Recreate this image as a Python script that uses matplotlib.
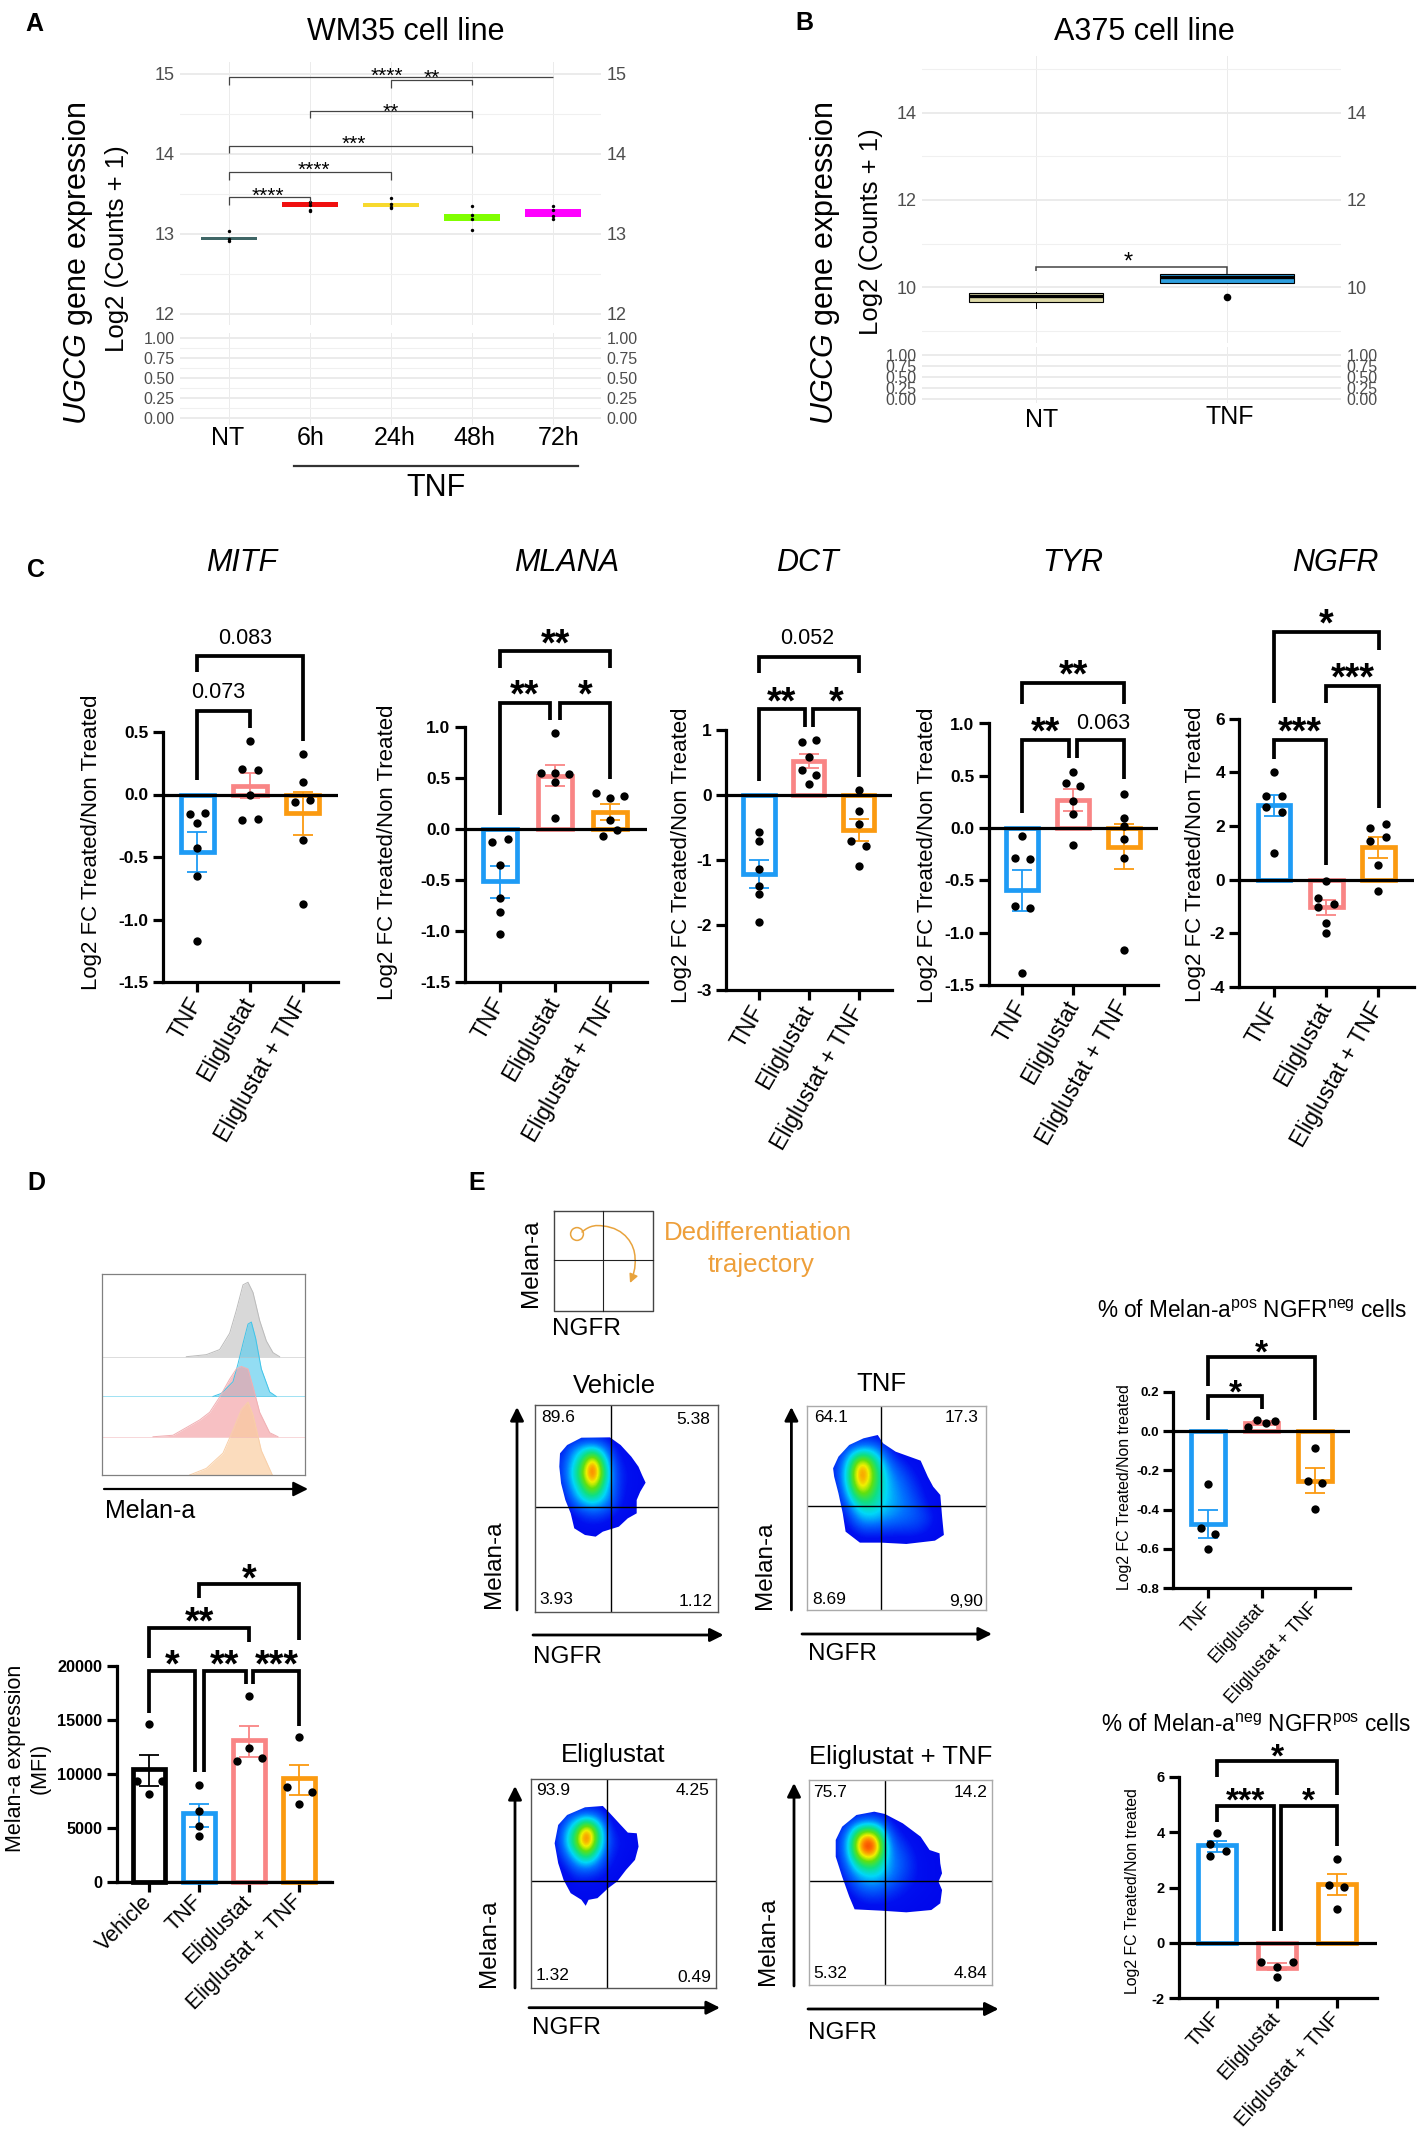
import numpy as np
import matplotlib
matplotlib.use('Agg')
import matplotlib.pyplot as plt
from matplotlib.colors import LinearSegmentedColormap
from matplotlib.patches import FancyArrowPatch, Polygon
from matplotlib.path import Path

W, H = 1417, 2137

plt.rcParams['font.family'] = ['Liberation Sans', 'DejaVu Sans']
plt.rcParams['mathtext.fontset'] = 'custom'
plt.rcParams['mathtext.rm'] = 'Liberation Sans'
plt.rcParams['mathtext.it'] = 'Liberation Sans:italic'
plt.rcParams['mathtext.bf'] = 'Liberation Sans:bold'
plt.rcParams['axes.unicode_minus'] = False

# ---- panel A / B box data
WM35_GROUPS = ['NT', '6h', '24h', '48h', '72h']
WM35_BOX_LOW = [12.92, 13.34, 13.34, 13.16, 13.21]
WM35_BOX_HIGH = [12.96, 13.40, 13.38, 13.25, 13.31]
WM35_DOTS = [[13.03, 12.93, 12.91], [13.40, 13.36, 13.30, 13.28], [13.45, 13.37, 13.34, 13.32],
             [13.35, 13.24, 13.19, 13.05], [13.35, 13.30, 13.22, 13.19]]
WM35_COLORS = ['#3F6666', '#F01010', '#F7D92E', '#80FF00', '#FF00FF']

A375_GROUPS = ['NT', 'TNF']
A375_BOX_LOW = [9.66, 10.09]
A375_BOX_HIGH = [9.86, 10.30]
A375_MEDIAN = [9.80, 10.24]
A375_WHISK_LOW = [9.53, 10.09]
A375_WHISK_HIGH = [9.90, 10.30]
A375_OUTLIER = [9.77]
A375_COLORS = ['#DDD9A8', '#2E9FDF']

# ---- panel C, D, E bars
GROUPS3 = ['TNF', 'Eliglustat', 'Eliglustat + TNF']
GROUPS4 = ['Vehicle', 'TNF', 'Eliglustat', 'Eliglustat + TNF']
BLUE, PINK, ORANGE = '#1E9BF5', '#F98585', '#FB9A10'

MITF_VALUES = [-0.46, 0.07, -0.15]
MITF_LOW = [-0.62, -0.03, -0.32]
MITF_HIGH = [-0.30, 0.17, 0.02]
MITF_DOTS = [[-0.157, -0.145, -0.226, -0.426, -0.65, -1.17], [0.43, 0.207, 0.193, 0.0, -0.2, -0.197],
             [0.325, 0.10, -0.06, -0.04, -0.36, -0.875]]

MLANA_VALUES = [-0.51, 0.52, 0.17]
MLANA_LOW = [-0.675, 0.42, 0.09]
MLANA_HIGH = [-0.36, 0.63, 0.24]
MLANA_DOTS = [[-0.13, -0.096, -0.355, -0.68, -0.81, -1.03], [0.94, 0.547, 0.547, 0.535, 0.463, 0.11],
              [0.35, 0.307, 0.323, 0.09, -0.068, -0.008]]

DCT_VALUES = [-1.21, 0.52, -0.53]
DCT_LOW = [-1.43, 0.41, -0.70]
DCT_HIGH = [-0.99, 0.627, -0.364]
DCT_DOTS = [[-0.564, -0.70, -1.14, -1.40, -1.52, -1.956], [0.815, 0.84, 0.583, 0.389, 0.313, 0.175],
            [0.075, -0.25, -0.45, -0.70, -0.78, -1.085]]

TYR_VALUES = [-0.59, 0.27, -0.18]
TYR_LOW = [-0.79, 0.168, -0.394]
TYR_HIGH = [-0.40, 0.378, 0.035]
TYR_DOTS = [[-0.078, -0.285, -0.30, -0.74, -0.768, -1.385], [0.538, 0.429, 0.406, 0.257, 0.133, -0.16],
            [0.324, 0.098, 0.023, -0.105, -0.289, -1.17]]

NGFR_VALUES = [2.78, -1.03, 1.2]
NGFR_LOW = [2.36, -1.32, 0.805]
NGFR_HIGH = [3.15, -0.745, 1.6]
NGFR_DOTS = [[4.0, 3.13, 3.13, 2.69, 2.54, 0.99], [-0.03, -0.70, -1.0, -0.91, -1.6, -2.0],
             [1.93, 2.08, 1.44, 1.6, 0.55, -0.43]]

MFI_VALUES = [10500, 6400, 13200, 9600]
MFI_LOW = [8860, 5120, 11600, 8060]
MFI_HIGH = [11750, 7250, 14500, 10850]
MFI_DOTS = [[14650, 9340, 9340, 8150], [8960, 6590, 5170, 4220], [17250, 12420, 11230, 11470],
            [13460, 8820, 8340, 7250]]

POSNEG_VALUES = [-0.473, 0.042, -0.253]
POSNEG_LOW = [-0.542, 0.03, -0.313]
POSNEG_HIGH = [-0.40, 0.05, -0.186]
POSNEG_DOTS = [[-0.271, -0.495, -0.525, -0.60], [0.022, 0.056, 0.041, 0.049], [-0.085, -0.253, -0.266, -0.395]]

NEGPOS_VALUES = [3.53, -0.9, 2.13]
NEGPOS_LOW = [3.27, -0.99, 1.72]
NEGPOS_HIGH = [3.69, -0.72, 2.48]
NEGPOS_DOTS = [[3.97, 3.57, 3.12, 3.30], [-0.686, -0.70, -0.866, -1.215], [3.03, 2.09, 2.03, 1.23]]

# dot offsets from the bar centre
JIT_MITF = [[-0.15, 0.15, 0, 0, 0, 0], [0, -0.15, 0.15, 0, -0.15, 0.15], [0, 0, -0.15, 0.15, 0, 0]]
JIT_MLANA = [[-0.15, 0.15, 0, 0, 0, 0], [0, -0.25, 0, 0.26, 0, 0], [-0.25, 0, 0.25, 0, -0.125, 0.125]]
JIT_DCT = [[0, 0, 0, 0, 0, 0], [-0.146, 0.146, 0, -0.146, 0.146, 0], [0, 0, 0, -0.146, 0.146, 0]]
JIT_TYR = [[0, -0.15, 0.15, -0.15, 0.15, 0], [0, -0.14, 0.14, 0, 0, 0], [0, 0, 0, 0, 0, 0]]
JIT_NGFR = [[0, -0.15, 0.15, -0.15, 0.15, 0], [0, -0.15, -0.15, 0.15, 0, 0], [-0.16, 0.15, -0.16, 0.15, 0, 0]]
JIT_MFI = [[0, -0.25, 0.25, 0], [0, 0, 0, 0], [0, 0, -0.25, 0.25], [0, -0.25, 0.25, 0]]
JIT_POSNEG = [[0, -0.13, 0.13, 0], [-0.26, -0.09, 0.08, 0.25], [0, -0.14, 0.13, 0]]
JIT_NEGPOS = [[0, -0.13, -0.13, 0.14], [-0.27, 0.27, 0, 0], [0, -0.13, 0.13, 0]]

# brackets: x1, x2, top, left end, right end, label, label x, label y
MITF_BR = [(0, 1, 0.672, 0.115, 0.53, '0.073', 0.39, 0.83), (0, 2, 1.105, 0.977, 0.426, '0.083', 0.9, 1.27)]
MLANA_BR = [(0, 0.904, 1.234, 0.132, 1.07, '**', 0.452, 1.41), (1.096, 2, 1.234, 1.07, 0.491, '*', 1.556, 1.41),
            (0, 2, 1.741, 1.57, 1.57, '**', 1.01, 1.909)]
DCT_BR = [(0, 0.92, 1.317, 0.219, 1.053, '**', 0.456, 1.586), (1.09, 2, 1.317, 1.053, 0.282, '*', 1.553, 1.586),
          (0, 2, 2.119, 1.868, 1.868, '0.052', 0.97, 2.439)]
TYR_BR = [(0, 0.924, 0.839, 0.14, 0.667, '**', 0.448, 1.01), (1.086, 2, 0.839, 0.667, 0.472, '0.063', 1.6, 1.026),
          (0, 2, 1.385, 1.182, 1.182, '**', 1, 1.556)]
NGFR_BR = [(0, 0.99, 5.21, 4.51, 0.53, '***', 0.5, 5.88), (0.99, 2.02, 7.22, 6.57, 2.66, '***', 1.5, 7.89),
           (0, 2.02, 9.21, 6.57, 8.54, '*', 1, 9.88)]
MFI_BR = [(0, 0.92, 19580, 15640, 10190, '*', 0.46, 21090), (1.09, 1.93, 19580, 10190, 18340, '**', 1.507, 21090),
          (2.087, 3, 19580, 18340, 14460, '***', 2.553, 21090), (0, 2, 23560, 20760, 22280, '**', 1, 25070),
          (1, 3, 27630, 26310, 22420, '*', 2.007, 29010)]
POSNEG_BR = [(0, 1, 0.178, 0.056, 0.11, '*', 0.5, 0.242), (0, 2, 0.375, 0.23, 0.056, '*', 1, 0.446)]
NEGPOS_BR = [(0, 0.944, 4.93, 4.36, 0.42, '***', 0.47, 5.48), (1.067, 2.01, 4.93, 0.42, 3.49, '*', 1.53, 5.48),
             (0, 2, 6.55, 5.99, 5.33, '*', 1, 7.06)]

WM35_BR = [(0, 4, 14.96, 14.86, 14.96, '****', 1.943, 15.05), (2, 3, 14.93, 14.82, 14.86, '**', 2.5, 15.02),
           (1, 3, 14.54, 14.45, 14.45, '**', 2.0, 14.6), (0, 3, 14.10, 14.01, 14.01, '***', 1.535, 14.2),
           (0, 2, 13.78, 13.68, 13.68, '****', 1.05, 13.87), (0, 1, 13.46, 13.36, 13.40, '****', 0.476, 13.55)]

# ---- histogram in D (height above each row's baseline)
HIST_GRAY_X = [560, 620, 660, 690, 710, 730, 745, 760, 780, 800, 820, 840]
HIST_GRAY_H = [0, 4, 14, 46, 91, 141, 146, 126, 71, 31, 8, 0]
HIST_BLUE_X = [640, 665, 700, 715, 730, 745, 755, 768, 785, 810, 830]
HIST_BLUE_H = [0, 6, 29, 64, 104, 142, 146, 114, 54, 9, 0]
HIST_PINK_X = [460, 520, 560, 600, 630, 660, 690, 710, 725, 745, 760, 780, 810, 835]
HIST_PINK_H = [0, 3, 18, 33, 48, 78, 113, 133, 138, 133, 98, 48, 8, 0]
HIST_ORANGE_X = [570, 620, 670, 700, 725, 745, 760, 785, 818]
HIST_ORANGE_H = [0, 13, 43, 88, 128, 143, 118, 48, 0]

# ---- flow plots: quadrant percentages, contour outline and coarse density read by eye
QUAD_VEHICLE = ['89.6', '5.38', '3.93', '1.12']
QUAD_TNF = ['64.1', '17.3', '8.69', '9,90']
QUAD_ELIG = ['93.9', '4.25', '1.32', '0.49']
QUAD_COMBO = ['75.7', '14.2', '5.32', '4.84']

OUT_VEHICLE = [(280, 850), (300, 825), (340, 803), (420, 802), (450, 825), (480, 860), (500, 890), (510, 915),
               (520, 938), (505, 965), (495, 990), (495, 1030), (470, 1045), (445, 1070), (400, 1085), (380, 1100),
               (350, 1095), (320, 1075), (310, 1030), (295, 990), (283, 940), (278, 890)]
DENS_VEHICLE = [[.10, .12, .14, .15, .14, .10, .10, .08, .08],
                [.14, .28, .40, .44, .34, .16, .12, .08, .08],
                [.18, .36, .56, .93, .52, .22, .14, .10, .08],
                [.18, .40, .66, 1.0, .62, .25, .16, .12, .08],
                [.16, .34, .54, .80, .50, .25, .15, .12, .08],
                [.12, .26, .42, .50, .40, .24, .14, .10, .08],
                [.10, .15, .22, .26, .24, .18, .12, .08, .08],
                [.08, .10, .14, .15, .14, .10, .08, .08, .08],
                [.08, .08, .08, .08, .08, .08, .08, .08, .08]]
OUT_TNF = [(1045, 895), (1060, 860), (1090, 825), (1130, 805), (1170, 795), (1185, 820), (1220, 845), (1290, 872),
           (1310, 920), (1325, 950), (1345, 975), (1350, 1040), (1355, 1095), (1330, 1112), (1250, 1122), (1180, 1118),
           (1120, 1118), (1080, 1085), (1072, 1030), (1060, 970), (1048, 920)]
DENS_TNF = [[.10, .12, .15, .14, .10, .08, .08, .08, .08],
            [.12, .28, .40, .38, .18, .10, .08, .08, .08],
            [.16, .42, .93, .56, .30, .18, .12, .08, .08],
            [.16, .48, 1.0, .62, .36, .26, .16, .10, .08],
            [.12, .42, .84, .56, .38, .30, .20, .12, .08],
            [.10, .30, .54, .50, .38, .32, .24, .14, .08],
            [.08, .20, .40, .40, .34, .30, .26, .20, .10],
            [.08, .12, .22, .22, .20, .20, .20, .16, .08],
            [.08, .08, .10, .10, .10, .10, .10, .08, .08]]
OUT_ELIG = [(265, 430), (275, 375), (300, 345), (350, 322), (400, 318), (420, 340), (450, 375), (470, 398), (495, 400),
            (500, 440), (490, 480), (465, 510), (440, 545), (415, 565), (385, 595), (360, 600), (352, 618), (340, 600),
            (310, 580), (290, 540), (275, 490)]
DENS_ELIG = [[.10, .10, .12, .12, .12, .10, .08, .08, .08],
             [.10, .20, .30, .36, .30, .14, .10, .08, .08],
             [.14, .32, .56, .92, .58, .22, .12, .10, .08],
             [.14, .36, .66, 1.0, .60, .24, .16, .12, .10],
             [.12, .26, .46, .66, .42, .20, .14, .10, .08],
             [.10, .16, .28, .32, .26, .16, .12, .08, .08],
             [.08, .10, .16, .16, .14, .12, .08, .08, .08],
             [.08, .08, .10, .10, .10, .08, .08, .08, .08],
             [.08, .08, .08, .08, .08, .08, .08, .08, .08]]
OUT_COMBO = [(1052, 420), (1070, 380), (1110, 345), (1160, 335), (1190, 342), (1240, 370), (1290, 410), (1315, 450),
             (1343, 460), (1345, 490), (1350, 520), (1340, 545), (1350, 570), (1345, 610), (1320, 630), (1250, 637),
             (1180, 632), (1105, 628), (1090, 590), (1070, 530), (1052, 470)]
DENS_COMBO = [[.10, .10, .12, .12, .10, .08, .08, .08, .08],
              [.10, .20, .32, .34, .18, .10, .08, .08, .08],
              [.14, .34, .86, .84, .28, .16, .10, .08, .08],
              [.14, .38, .98, 1.0, .34, .22, .14, .08, .08],
              [.12, .32, .66, .68, .34, .26, .16, .10, .08],
              [.10, .24, .40, .44, .34, .24, .16, .10, .08],
              [.08, .16, .28, .30, .24, .18, .14, .10, .08],
              [.08, .10, .16, .18, .16, .14, .10, .08, .08],
              [.08, .08, .10, .10, .10, .10, .08, .08, .08]]

FLOW_CMAP = LinearSegmentedColormap.from_list(
    'flow', [(0, '#0000E8'), (0.15, '#0010F0'), (0.30, '#0070FF'), (0.42, '#00D8F8'), (0.55, '#10E080'),
             (0.68, '#60E010'), (0.78, '#F0F000'), (0.88, '#FF8000'), (1, '#F00000')])

fig = plt.figure(figsize=(W / 100, H / 100), dpi=100)
bg = fig.add_axes([0, 0, 1, 1])
bg.set_xlim(0, W)
bg.set_ylim(H, 0)
bg.axis('off')


def px_axes(left, top, right, bottom):
    a = fig.add_axes([left / W, 1 - bottom / H, (right - left) / W, (bottom - top) / H], facecolor='none')
    return a


def label(x, y, s, size, **kw):
    kw.setdefault('ha', 'center')
    kw.setdefault('va', 'center')
    bg.text(x, y, s, fontsize=size, **kw)


def arrow(x0, y0, x1, y1, lw=2.0, scale=20):
    bg.annotate('', xy=(x1, y1), xytext=(x0, y0),
                arrowprops=dict(arrowstyle='-|>', lw=lw, color='k', mutation_scale=scale,
                                shrinkA=0, shrinkB=0))


def sig_text(ax, x, y, s, star_size, num_size, bold=True):
    star = '*' in s
    size = star_size if star else num_size
    ax.annotate(s, (x, y), xytext=(0, -(0.57 if star else 0.36) * size), textcoords='offset points',
                ha='center', va='baseline', fontsize=size,
                fontweight='bold' if (star and bold) else 'normal', annotation_clip=False)


def brackets(ax, items, lw, color, star_size, num_size, bold=True):
    for x1, x2, top, lo1, lo2, s, tx, ty in items:
        ax.plot([x1, x1, x2, x2], [lo1, top, top, lo2], color=color, lw=lw, clip_on=False,
                solid_joinstyle='miter', solid_capstyle='butt', zorder=6)
        sig_text(ax, tx, ty, s, star_size, num_size, bold)


def bar_panel(box, first, step, ylim, yticks, ylabs, values, low, high, dots, jitter, colors, items,
              tick_size, x_size, rot, star_size=27, num_size=15.5, edge=3.4, lw=2.3):
    spine, top, end, bottom = box
    ax = px_axes(spine, top, end, bottom)
    ax.set_xlim((spine - first) / step, (end - first) / step)
    ax.set_ylim(*ylim)
    xs = np.arange(len(values))
    ax.bar(xs, values, width=0.63, facecolor='white', edgecolor=colors, linewidth=edge, zorder=2, clip_on=False)
    for i in xs:
        ax.errorbar(i, values[i], yerr=[[values[i] - low[i]], [high[i] - values[i]]], color=colors[i], lw=1.3,
                    capsize=7, capthick=1.3, zorder=3, clip_on=False)
        ax.scatter(np.array(jitter[i]) + i, dots[i], s=36, color='k', linewidths=0, zorder=5, clip_on=False)
    ax.axhline(0, color='k', lw=lw, zorder=4)
    for side in ['top', 'right']:
        ax.spines[side].set_visible(False)
    for side in ['left', 'bottom']:
        ax.spines[side].set_linewidth(lw)
    ax.set_yticks(yticks)
    ax.set_yticklabels(ylabs, fontsize=tick_size, fontweight='bold')
    ax.set_xticks(xs)
    groups = GROUPS3 if len(values) == 3 else GROUPS4
    ax.set_xticklabels(groups, fontsize=x_size, rotation=rot, ha='right', va='center', rotation_mode='anchor')
    ax.tick_params(axis='both', length=7.2, width=lw, pad=3)
    ax.tick_params(axis='x', pad=5)
    brackets(ax, items, 2.7, 'k', star_size, num_size)
    return ax


def box_grid(ax, major, minor, labels=None, size=12.5):
    ax.set_yticks(major)
    ax.set_yticks(minor, minor=True)
    if labels:
        ax.set_yticklabels(labels)
    ax.grid(axis='y', which='major', color='#EBEBEB', lw=1.4)
    ax.grid(axis='y', which='minor', color='#F0F0F0', lw=0.8)
    ax.grid(axis='x', which='major', color='#EBEBEB', lw=0.7)
    ax.set_axisbelow(True)
    for s in ax.spines.values():
        s.set_visible(False)
    ax.tick_params(axis='y', which='both', length=0, left=False, right=False, labelleft=True, labelright=True)
    ax.tick_params(axis='y', which='major', pad=3.8, labelcolor='#4D4D4D', labelsize=size)
    ax.tick_params(axis='x', length=0, labelbottom=False)


LOW_TICKS = [0, 0.25, 0.5, 0.75, 1.0]
LOW_LABELS = ['0.00', '0.25', '0.50', '0.75', '1.00']

# ---- panel A
xl = ((180 - 229) / 81, (601 - 229) / 81)
a_up = px_axes(180, 62, 601, 325)
a_up.set_xlim(*xl)
a_up.set_ylim(11.86, 15.15)
a_up.set_xticks(range(5))
box_grid(a_up, [12, 13, 14, 15], [12.5, 13.5, 14.5], size=13)
a_lo = px_axes(180, 333, 601, 425)
a_lo.set_xlim(*xl)
a_lo.set_ylim(-0.0875, 1.0625)
a_lo.set_xticks(range(5))
box_grid(a_lo, LOW_TICKS, [0.125, 0.375, 0.625, 0.875], LOW_LABELS, size=11.5)
for i in range(5):
    a_up.bar(i, WM35_BOX_HIGH[i] - WM35_BOX_LOW[i], bottom=WM35_BOX_LOW[i], width=0.7, color=WM35_COLORS[i], zorder=2)
    a_up.scatter([i] * len(WM35_DOTS[i]), WM35_DOTS[i], s=6, color='k', linewidths=0, zorder=3)
brackets(a_up, WM35_BR, 0.9, '#444444', 15, 15, bold=False)

label(406, 32, 'WM35 cell line', 22)
label(34, 24, 'A', 18, fontweight='bold')
label(78, 263, r'$\mathit{UGCG}$ gene expression', 22, rotation=90)
label(117, 249, 'Log2 (Counts + 1)', 18.5, rotation=90)
for lx, g in zip([228, 311, 395, 474, 559], WM35_GROUPS):
    label(lx, 438, g, 18)
bg.plot([294, 578], [466, 466], color='#333333', lw=1.6)
label(436, 488, 'TNF', 22)

# ---- panel B
xl = ((922 - 1036) / 191, (1341 - 1036) / 191)
b_up = px_axes(922, 56, 1341, 343)
b_up.set_xlim(*xl)
b_up.set_ylim(8.72, 15.3)
b_up.set_xticks(range(2))
box_grid(b_up, [10, 12, 14], [9, 11, 13, 15], size=13)
b_lo = px_axes(922, 347, 1341, 403)
b_lo.set_xlim(*xl)
b_lo.set_ylim(-0.098, 1.183)
b_lo.set_xticks(range(2))
box_grid(b_lo, LOW_TICKS, [], LOW_LABELS, size=11.5)
for i in range(2):
    b_up.plot([i, i], [A375_WHISK_LOW[i], A375_WHISK_HIGH[i]], color='k', lw=0.7, zorder=2)
    b_up.bar(i, A375_BOX_HIGH[i] - A375_BOX_LOW[i], bottom=A375_BOX_LOW[i], width=0.7, color=A375_COLORS[i],
             edgecolor='k', lw=0.8, zorder=3)
    b_up.plot([i - 0.35, i + 0.35], [A375_MEDIAN[i]] * 2, color='k', lw=2.4, solid_capstyle='butt', zorder=4)
b_up.scatter([1], A375_OUTLIER, s=30, color='k', linewidths=0, zorder=4)
brackets(b_up, [(0, 1, 10.47, 10.36, 10.30, '*', 0.485, 10.73)], 1.1, '#444444', 17, 15, bold=False)

label(1144, 32, 'A375 cell line', 22)
label(804, 23, 'B', 18, fontweight='bold')
label(825, 263, r'$\mathit{UGCG}$ gene expression', 22, rotation=90)
label(871, 232, 'Log2 (Counts + 1)', 18.5, rotation=90)
label(1042, 420, A375_GROUPS[0], 18)
label(1230, 417, A375_GROUPS[1], 18)

# ---- panel C
C_COLORS = [BLUE, PINK, ORANGE]
bar_panel((163, 732, 338, 982), 197.4, 52.6, (-1.5, 0.5), [-1.5, -1, -0.5, 0, 0.5],
          ['-1.5', '-1.0', '-0.5', '0.0', '0.5'], MITF_VALUES, MITF_LOW, MITF_HIGH, MITF_DOTS, JIT_MITF, C_COLORS,
          MITF_BR, 12.5, 16.5, 60)
bar_panel((464.6, 726.7, 646.5, 982.2), 500, 55, (-1.5, 1.0), [-1.5, -1, -0.5, 0, 0.5, 1],
          ['-1.5', '-1.0', '-0.5', '0.0', '0.5', '1.0'], MLANA_VALUES, MLANA_LOW, MLANA_HIGH, MLANA_DOTS, JIT_MLANA,
          C_COLORS, MLANA_BR, 12.5, 16.5, 60)
bar_panel((726.2, 730, 891.9, 990.4), 759, 49.8, (-3, 1), [-3, -2, -1, 0, 1], ['-3', '-2', '-1', '0', '1'],
          DCT_VALUES, DCT_LOW, DCT_HIGH, DCT_DOTS, JIT_DCT, C_COLORS, DCT_BR, 12.5, 16.5, 60)
bar_panel((988.5, 723.5, 1157.6, 985), 1022.3, 50.75, (-1.5, 1.0), [-1.5, -1, -0.5, 0, 0.5, 1],
          ['-1.5', '-1.0', '-0.5', '0.0', '0.5', '1.0'], TYR_VALUES, TYR_LOW, TYR_HIGH, TYR_DOTS, JIT_TYR, C_COLORS,
          TYR_BR, 12.5, 16.5, 60)
bar_panel((1239.2, 718.6, 1413.6, 987.1), 1274, 52.2, (-4, 6), [-4, -2, 0, 2, 4, 6], ['-4', '-2', '0', '2', '4', '6'],
          NGFR_VALUES, NGFR_LOW, NGFR_HIGH, NGFR_DOTS, JIT_NGFR, C_COLORS, NGFR_BR, 12.5, 16.5, 60)

label(36, 570, 'C', 18, fontweight='bold')
for tx, s in zip([242, 567, 807, 1073, 1335], ['MITF', 'MLANA', 'DCT', 'TYR', 'NGFR']):
    label(tx, 563, s, 22, style='italic')
for lx, ly in zip([92, 387, 682, 928, 1195], [842, 852, 855, 855, 854]):
    label(lx, ly, 'Log2 FC Treated/Non Treated', 16, rotation=90)

# ---- panel D histogram
h = px_axes(102, 1273.6, 305, 1475)
h.set_xlim(307, 916)
h.set_ylim(0, 395)
h.set_xticks([])
h.set_yticks([])
for s in h.spines.values():
    s.set_color('#808080')
    s.set_linewidth(0.9)
rows = [(232, HIST_GRAY_X, HIST_GRAY_H, '#C4C4C4', '#BBBBBB'), (154, HIST_BLUE_X, HIST_BLUE_H, '#5CCCEE', '#40C4E8'),
        (75, HIST_PINK_X, HIST_PINK_H, '#F4A0A4', '#F0B0B4'), (0, HIST_ORANGE_X, HIST_ORANGE_H, '#FACB9C', '#F8CFA8')]
for base, xs, hs, fc, ec in rows:
    ys = np.array(hs) + base
    h.fill_between(xs, base, ys, color=fc, alpha=0.66, linewidth=0)
    h.plot(xs, ys, color=ec, lw=0.7)
    h.axhline(base, color=ec, lw=0.7, alpha=0.5)
label(36, 1183, 'D', 18, fontweight='bold')
arrow(104, 1489, 308, 1489, lw=1.6, scale=22)
label(105, 1511, 'Melan-a', 18, ha='left')

# ---- panel D bars
bar_panel((116.7, 1666.4, 332, 1881.7), 149, 50, (0, 20000), [0, 5000, 10000, 15000, 20000],
          ['0', '5000', '10000', '15000', '20000'], MFI_VALUES, MFI_LOW, MFI_HIGH, MFI_DOTS, JIT_MFI,
          ['k', BLUE, PINK, ORANGE], MFI_BR, 11.7, 15.5, 45)
label(16, 1758, 'Melan-a expression', 15.5, rotation=90)
label(40, 1768, '(MFI)', 15.5, rotation=90)

# ---- panel E schematic
label(477, 1183, 'E', 18, fontweight='bold')
bg.plot([553.6, 652.5, 652.5, 553.6, 553.6], [1210.7, 1210.7, 1311, 1311, 1210.7], color='#444444', lw=1.0)
bg.plot([602.5, 602.5], [1210.7, 1311], color='#222222', lw=0.8)
bg.plot([553.6, 652.5], [1260, 1260], color='#222222', lw=0.8)
label(531, 1263, 'Melan-a', 17.5, rotation=90)
label(552, 1329, 'NGFR', 17.5, ha='left')
ORANGE_TEXT = '#EE9F3A'
bg.scatter([577], [1234], s=85, facecolors='none', edgecolors='#E8A33D', linewidths=1.1)
arc = Path([(582, 1232), (590, 1225), (597, 1225), (603, 1226), (625, 1228), (635, 1245), (635, 1258),
            (636, 1268), (633, 1276), (630, 1283)],
           [Path.MOVETO] + [Path.CURVE4] * 9)
bg.add_patch(FancyArrowPatch(path=arc, arrowstyle='-|>', mutation_scale=13, color='#E8A33D', lw=1.1))
label(758, 1233, 'Dedifferentiation', 18.6, color=ORANGE_TEXT)
label(761, 1265, 'trajectory', 18.6, color=ORANGE_TEXT)


def flow(box, lims, gate, outline, dens, grid_x, grid_y, quad, quad_pos, edge):
    # lims/outline/gate in the plot's own picture units
    ax = px_axes(*box)
    dx = grid_x[1] - grid_x[0]
    dy = grid_y[1] - grid_y[0]
    ext = (grid_x[0] - dx / 2, grid_x[-1] + dx / 2, grid_y[-1] + dy / 2, grid_y[0] - dy / 2)
    im = ax.imshow(np.array(dens), extent=ext, cmap=FLOW_CMAP, vmin=0, vmax=0.98, interpolation='bicubic', aspect='auto')
    clip = Polygon(outline, closed=True, transform=ax.transData, facecolor='none', edgecolor='none')
    ax.add_patch(clip)
    im.set_clip_path(clip)
    ax.set_xlim(lims[0], lims[1])
    ax.set_ylim(lims[2], lims[3])
    ax.axvline(gate[0], color='k', lw=1.0)
    ax.axhline(gate[1], color='k', lw=1.0)
    ax.set_xticks([])
    ax.set_yticks([])
    for s in ax.spines.values():
        s.set_color(edge)
        s.set_linewidth(1.0)
    for (qx, qy), s in zip(quad_pos, quad):
        label(qx, qy, s, 12.5)


flow((535.4, 1404.7, 718, 1612.3), (211, 723, 1327, 704), (424, 1010), OUT_VEHICLE, DENS_VEHICLE,
     [280 + 30 * i for i in range(9)], [800 + 37.5 * i for i in range(9)], QUAD_VEHICLE,
     [(558, 1418), (693, 1419), (556, 1600), (696, 1601)], '#555555')
flow((807, 1406, 985.7, 1610.3), (972, 1472, 1321, 708), (1180, 1008), OUT_TNF, DENS_TNF,
     [1050 + 37.5 * i for i in range(9)], [800 + 40 * i for i in range(9)], QUAD_TNF,
     [(830.7, 1418), (962, 1418), (829.6, 1600), (966, 1601)], '#AAAAAA')
flow((530.7, 1778.7, 715.7, 1988), (198, 716, 865, 236), (413, 544), OUT_ELIG, DENS_ELIG,
     [265 + 30 * i for i in range(9)], [315 + 37.5 * i for i in range(9)], QUAD_ELIG,
     [(553, 1790.7), (693, 1790.7), (553, 1976), (694, 1977)], '#555555')
flow((808.6, 1780, 992, 1985), (976, 1490, 855, 240), (1189, 542), OUT_COMBO, DENS_COMBO,
     [1050 + 37.5 * i for i in range(9)], [330 + 38.75 * i for i in range(9)], QUAD_COMBO,
     [(830, 1792.7), (971, 1792.7), (830.7, 1973), (970.7, 1973)], '#AAAAAA')

for tx, ty, s in [(614, 1386, 'Vehicle'), (881, 1384, 'TNF'), (613, 1755, 'Eliglustat'), (901, 1757, 'Eliglustat + TNF')]:
    label(tx, ty, s, 18.5)
for x0, y0, y1 in [(517, 1610, 1407), (791.4, 1610, 1407), (515, 1988, 1786), (794, 1986, 1783)]:
    arrow(x0, y0, x0, y1)
for x0, x1, y0 in [(533, 723.6, 1635), (802, 992, 1634), (529, 720, 2007.7), (808, 998.6, 2009)]:
    arrow(x0, y0, x1, y0)
for tx, ty in [(494, 1564), (765, 1565), (489, 1943), (768, 1941)]:
    label(tx, ty, 'Melan-a', 17.5, rotation=90)
for tx, ty in [(533, 1657), (808, 1654), (532.5, 2028), (808, 2033)]:
    label(tx, ty, 'NGFR', 17.5, ha='left')

# ---- panel E bars
bar_panel((1173.3, 1391.7, 1350, 1588.3), 1208.3, 53.35, (-0.8, 0.2), [-0.8, -0.6, -0.4, -0.2, 0, 0.2],
          ['-0.8', '-0.6', '-0.4', '-0.2', '0.0', '0.2'], POSNEG_VALUES, POSNEG_LOW, POSNEG_HIGH, POSNEG_DOTS,
          JIT_POSNEG, C_COLORS, POSNEG_BR, 9.5, 13, 48, star_size=24)
label(1124, 1487, 'Log2 FC Treated/Non treated', 11.4, rotation=90)
label(1252, 1312, r'% of Melan-a$^{\mathrm{pos}}$ NGFR$^{\mathrm{neg}}$ cells', 16.3)

bar_panel((1179, 1776.7, 1376.7, 1998.3), 1217.3, 59.7, (-2, 6), [-2, 0, 2, 4, 6], ['-2', '0', '2', '4', '6'],
          NEGPOS_VALUES, NEGPOS_LOW, NEGPOS_HIGH, NEGPOS_DOTS, JIT_NEGPOS, C_COLORS, NEGPOS_BR, 10.5, 14.8, 48,
          star_size=24)
label(1133, 1891, 'Log2 FC Treated/Non treated', 11.4, rotation=90)
label(1256, 1726, r'% of Melan-a$^{\mathrm{neg}}$ NGFR$^{\mathrm{pos}}$ cells', 16.3)

plt.savefig('out.png', dpi=100)
